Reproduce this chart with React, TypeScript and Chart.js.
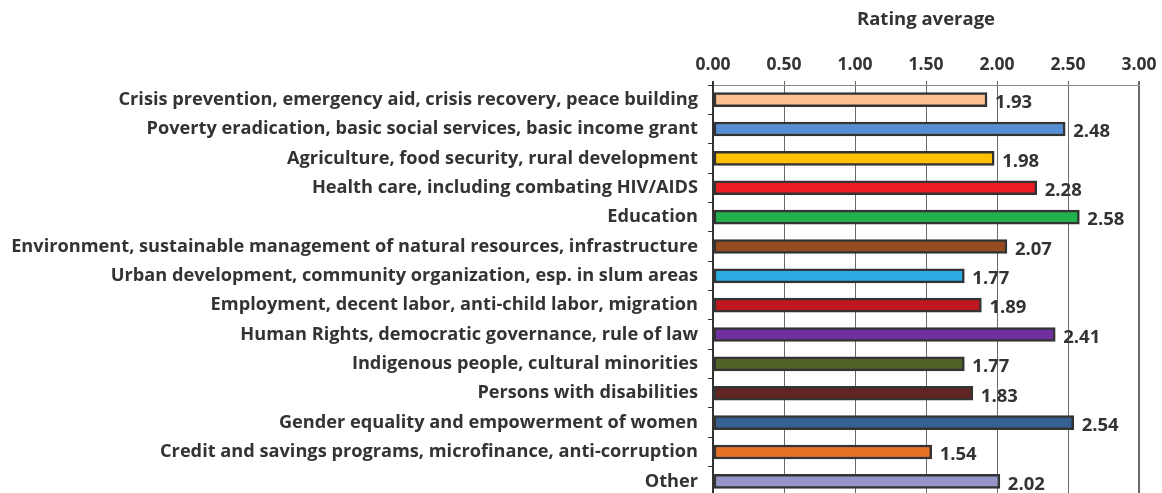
import React, { useEffect, useRef } from "react";
import { Chart, registerables } from "chart.js";

Chart.register(...registerables);

const categories = [
  "Crisis prevention, emergency aid, crisis recovery, peace building",
  "Poverty eradication, basic social services, basic income grant",
  "Agriculture, food security, rural development",
  "Health care, including combating HIV/AIDS",
  "Education",
  "Environment, sustainable management of natural resources, infrastructure",
  "Urban development, community organization, esp. in slum areas",
  "Employment, decent labor, anti-child labor, migration",
  "Human Rights, democratic governance, rule of law",
  "Indigenous people, cultural minorities",
  "Persons with disabilities",
  "Gender equality and empowerment of women",
  "Credit and savings programs, microfinance, anti-corruption",
  "Other",
];

const ratings = [1.93, 2.48, 1.98, 2.28, 2.58, 2.07, 1.77, 1.89, 2.41, 1.77, 1.83, 2.54, 1.54, 2.02];

const barColors = [
  "#FAC090",
  "#558ED5",
  "#FFC000",
  "#ED1C24",
  "#22B14C",
  "#974C20",
  "#2BABE2",
  "#C0171F",
  "#7030A0",
  "#4F6228",
  "#632523",
  "#376092",
  "#E87024",
  "#9594C8",
];

const xTicks = [0, 0.5, 1, 1.5, 2, 2.5, 3];
const axisTitle = "Rating average";

const FONT = "'Open Sans', 'Noto Sans', sans-serif";
const TEXT = "#333333";

const valueLabels = {
  id: "valueLabels",
  afterDatasetsDraw(chart: any) {
    const ctx = chart.ctx;
    const meta = chart.getDatasetMeta(0);
    ctx.save();
    ctx.font = `bold 18.5px ${FONT}`;
    ctx.fillStyle = TEXT;
    ctx.textAlign = "left";
    ctx.textBaseline = "middle";
    meta.data.forEach((el: any, i: number) => {
      const v = chart.data.datasets[0].data[i];
      ctx.fillText(Number(v).toFixed(2), el.x + 8, el.y + 3);
    });
    ctx.restore();
  },
};

export default function App() {
  const ref = useRef<HTMLCanvasElement>(null);
  useEffect(() => {
    if (!ref.current) return;
    const chart = new Chart(ref.current, {
      type: "bar",
      data: {
        labels: categories,
        datasets: [
          {
            data: ratings,
            backgroundColor: barColors,
            borderColor: "#333333",
            borderWidth: 2.5,
            borderSkipped: false,
            barThickness: 14,
          },
        ],
      },
      options: {
        indexAxis: "y",
        responsive: false,
        animation: false,
        layout: { padding: { left: 0, top: 0, bottom: 0, right: 23 } },
        plugins: {
          legend: { display: false },
          tooltip: { enabled: false },
        },
        scales: {
          x: {
            position: "top",
            min: 0,
            max: 3,
            afterBuildTicks: (scale: any) => {
              scale.ticks = xTicks.map((v) => ({ value: v }));
            },
            afterFit: (scale: any) => {
              scale.height = 85;
              scale.paddingLeft = 0;
              scale.paddingRight = 0;
            },
            ticks: {
              color: TEXT,
              font: { family: FONT, size: 17.5, weight: "bold" },
              padding: 5,
              maxRotation: 0,
              callback: (v: any) => Number(v).toFixed(2),
            },
            grid: {
              color: (c: any) => (c.tick && c.tick.value === 0 ? "#333333" : "#6a6a6a"),
              lineWidth: (c: any) => (c.tick && (c.tick.value === 3 || c.tick.value === 0) ? 2 : 1),
              tickLength: 4,
            },
            border: { color: "#8a8a8a", width: 1 },
            title: {
              display: true,
              text: axisTitle,
              color: TEXT,
              font: { family: FONT, size: 18.5, weight: "bold" },
              padding: { top: 9, bottom: 0 },
            },
          },
          y: {
            afterFit: (scale: any) => {
              scale.width = 713;
              scale.paddingTop = 0;
              scale.paddingBottom = 0;
            },
            ticks: {
              color: TEXT,
              font: { family: FONT, size: 18.2, weight: "bold" },
              padding: 10,
              autoSkip: false,
            },
            grid: {
              offset: true,
              drawOnChartArea: false,
              color: "#333333",
              tickLength: 5,
            },
            border: { color: "#333333", width: 2 },
          },
        },
      },
      plugins: [valueLabels],
    } as any);
    return () => chart.destroy();
  }, []);
  return (
    <div style={{ position: "absolute", left: 0, top: 0, width: 1162, height: 493, overflow: "hidden", background: "#fff" }}>
      <canvas ref={ref} width={1162} height={496} />
    </div>
  );
}
